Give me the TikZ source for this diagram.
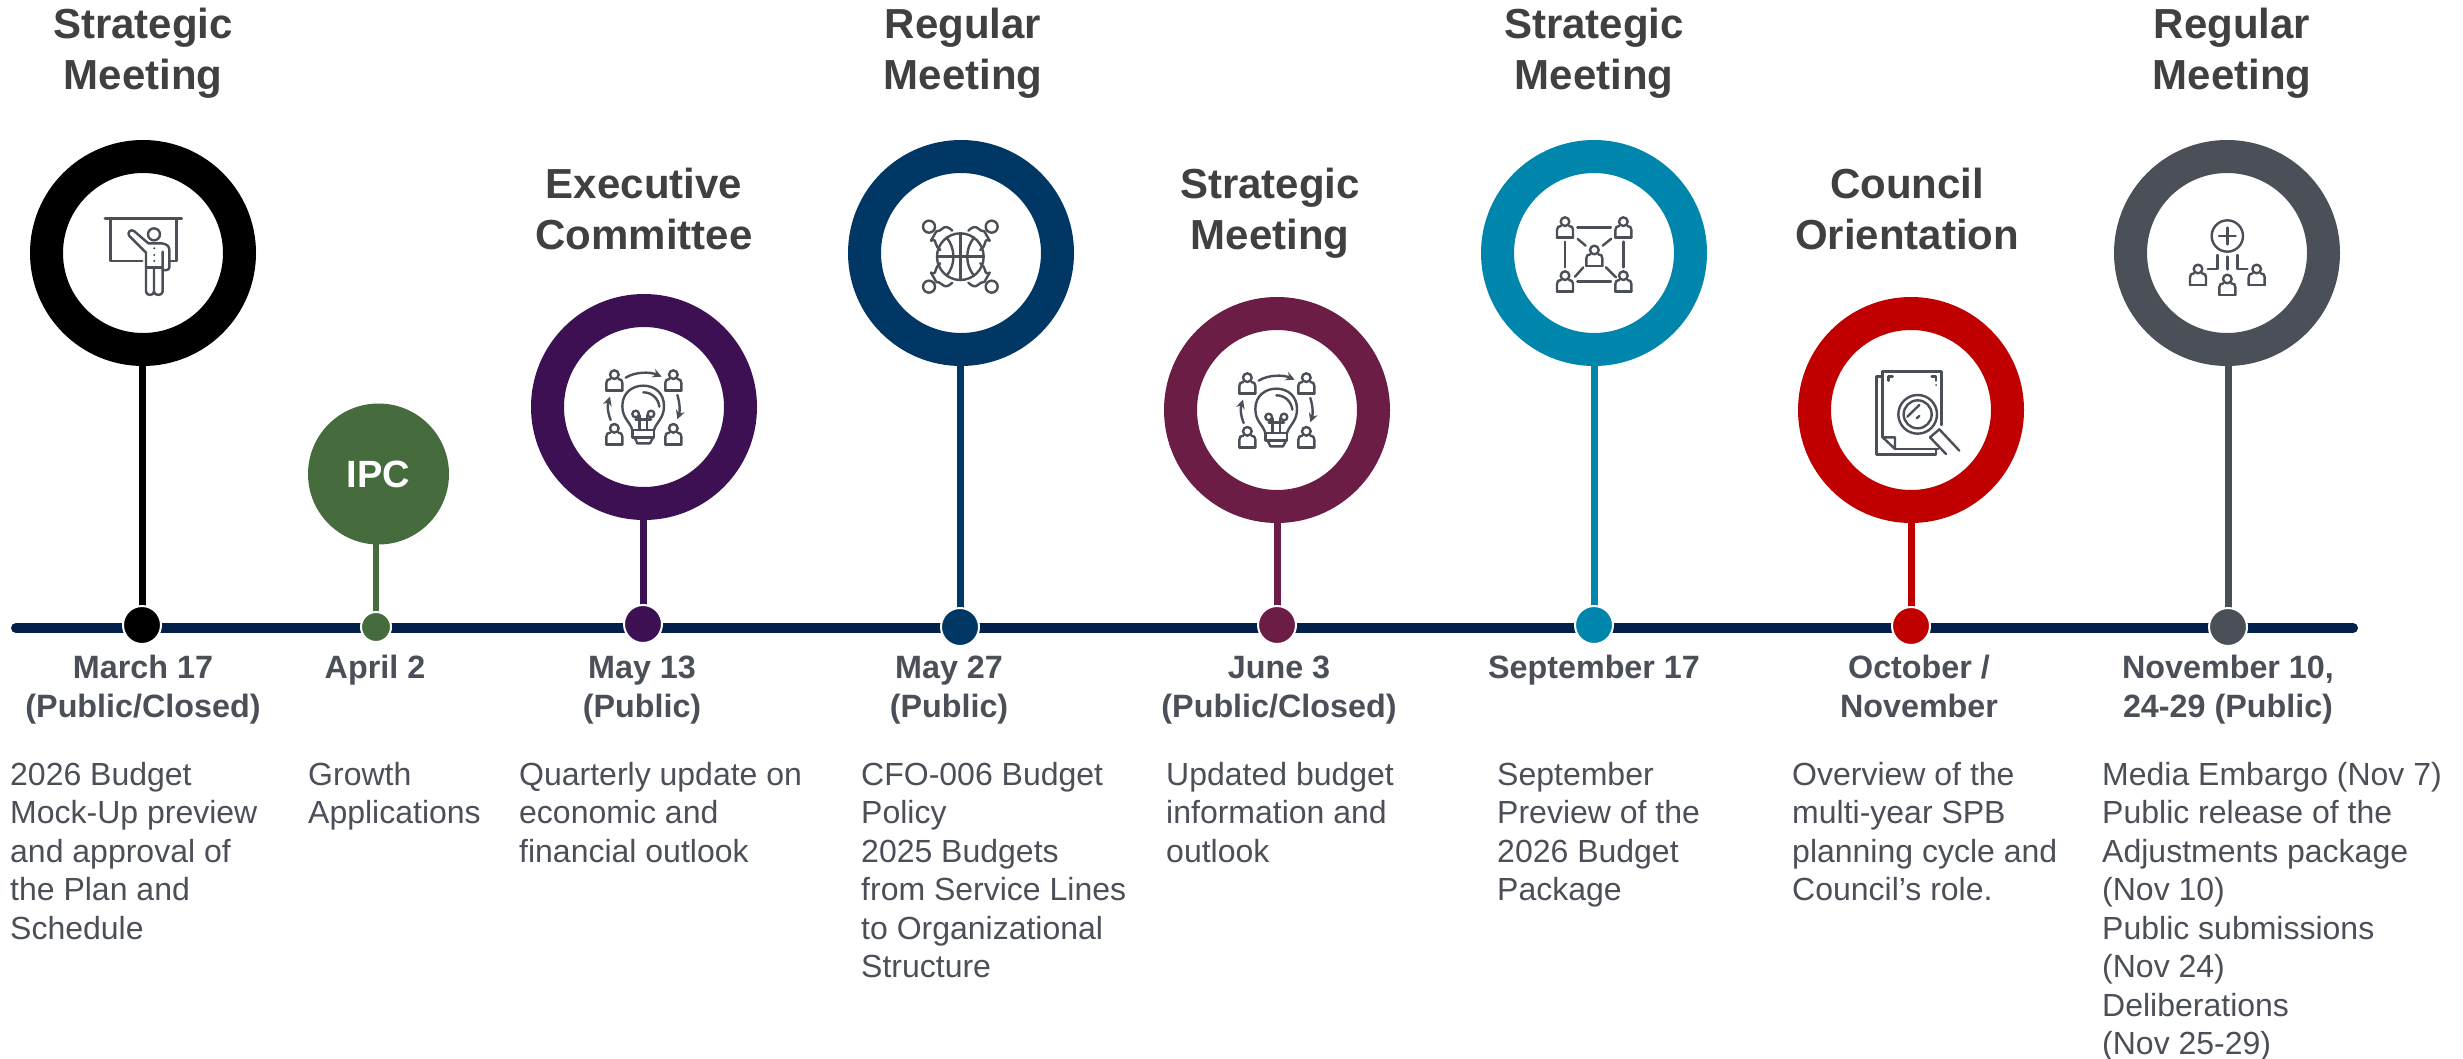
\documentclass[tikz,border=0pt]{standalone}
\usepackage{fontspec}
\setmainfont{Liberation Sans}
\usetikzlibrary{backgrounds,arrows.meta}
\definecolor{txtgray}{HTML}{4B4F58}
\definecolor{titlegray}{HTML}{404040}
\definecolor{axisnavy}{HTML}{03204A}
\definecolor{cblack}{HTML}{000000}
\definecolor{cgreen}{HTML}{466B3C}
\definecolor{cpurple}{HTML}{3C1053}
\definecolor{cnavy}{HTML}{003764}
\definecolor{cmaroon}{HTML}{6C1D45}
\definecolor{cteal}{HTML}{0085AD}
\definecolor{cred}{HTML}{C00000}
\definecolor{cgray}{HTML}{4B4F58}
\newcommand{\firstln}{\rule{0pt}{40pt}}
\tikzset{
  ringnode/.style={circle,draw=#1,fill=white,line width=33pt,minimum size=193pt,inner sep=0pt,outer sep=0pt},
  dotnode/.style={circle,fill=#1,draw=white,line width=2pt,minimum size=38pt,inner sep=0pt,outer sep=0pt},
  stemline/.style={draw=#1,line width=7pt},
  titlenode/.style={anchor=north,inner sep=0pt,align=center,text=titlegray,font=\fontsize{42}{51}\selectfont\bfseries},
  datenode/.style={anchor=north,inner sep=0pt,align=center,text=txtgray,font=\fontsize{32.3}{39}\selectfont\bfseries},
  bodynode/.style={anchor=north west,inner sep=0pt,align=left,text=txtgray,font=\fontsize{32}{38.5}\selectfont},
  iconline/.style={draw=txtgray,line width=2.4pt,line cap=round,line join=round},
}
\newcommand{\personicon}[2]{%
  \draw[iconline] (#1,#2) circle (13);
  \draw[iconline] (#1-24,#2+48) -- (#1-24,#2+25) .. controls (#1-24,#2+16) and (#1-20,#2+14) .. (#1-12,#2+13);
  \draw[iconline] (#1+24,#2+48) -- (#1+24,#2+25) .. controls (#1+24,#2+16) and (#1+20,#2+14) .. (#1+12,#2+13);
  \draw[iconline] (#1-24,#2+48) -- (#1+24,#2+48);
}
\newcommand{\bulbicon}{%
  \personicon{103}{104}\personicon{280}{104}\personicon{103}{265}\personicon{280}{265}
  \draw[iconline,-{Stealth[length=9,width=9]}] (137,113) .. controls (165,95) and (210,95) .. (245,110);
  \draw[iconline,-{Stealth[length=9,width=9]}] (292,165) .. controls (300,190) and (300,215) .. (292,238);
  \draw[iconline,-{Stealth[length=9,width=9]}] (92,240) .. controls (82,215) and (82,195) .. (90,170);
  \draw[iconline] (157,270) .. controls (150,245) and (127,235) .. (127,198) .. controls (127,160) and (155,137) .. (190,137) .. controls (225,137) and (252,160) .. (252,198) .. controls (252,235) and (230,245) .. (222,270);
  \draw[iconline] (157,270) -- (157,292) -- (222,292) -- (222,270) -- cycle;
  \draw[iconline] (190,157) .. controls (215,157) and (235,175) .. (238,200);
  \draw[iconline] (167,222) circle (10);
  \draw[iconline] (213,222) circle (10);
  \draw[iconline] (178,226) -- (178,270);
  \draw[iconline] (201,226) -- (201,270);
  \draw[iconline] (167,238) -- (213,238);
  \draw[iconline] (165,295) -- (172,310) -- (210,310) -- (218,295);
}
\begin{document}
\begin{tikzpicture}[x=1pt,y=-1pt]
\useasboundingbox (0,0) rectangle (2463,1059);
% rings
\node[ringnode=cblack]  (r1) at (143,253) {};
\node[circle,fill=cgreen,minimum size=141pt,inner sep=0pt,outer sep=0pt,text=white,font=\fontsize{38}{42}\selectfont\bfseries] (r2) at (378.5,474) {IPC};
\node[ringnode=cpurple] (r3) at (644,407) {};
\node[ringnode=cnavy]   (r4) at (961,253) {};
\node[ringnode=cmaroon] (r5) at (1277,410) {};
\node[ringnode=cteal]   (r6) at (1594,253) {};
\node[ringnode=cred]    (r7) at (1911,410) {};
\node[ringnode=cgray]   (r8) at (2227,253) {};
% dots
\coordinate (axisL) at (16,628);
\coordinate (axisR) at (2353,628);
\node[dotnode=cblack]  (d1) at (142,625) {};
\node[dotnode=cgreen,minimum size=30pt] (d2) at (376,627) {};
\node[dotnode=cpurple] (d3) at (643,624) {};
\node[dotnode=cnavy]   (d4) at (960,627) {};
\node[dotnode=cmaroon] (d5) at (1277,625) {};
\node[dotnode=cteal]   (d6) at (1594,625) {};
\node[dotnode=cred]    (d7) at (1911,626) {};
\node[dotnode=cgray]   (d8) at (2228,627) {};
\begin{pgfonlayer}{background}
\draw[axisnavy,line width=10pt,line cap=round] (axisL) -- (axisR);
\draw[stemline=cblack] (d1 |- r1) -- (d1);
\draw[stemline=cgreen,line width=6pt] (d2 |- r2) -- (d2);
\draw[stemline=cpurple] (d3 |- r3) -- (d3);
\draw[stemline=cnavy] (d4 |- r4) -- (d4);
\draw[stemline=cmaroon] (d5 |- r5) -- (d5);
\draw[stemline=cteal] (d6 |- r6) -- (d6);
\draw[stemline=cred] (d7 |- r7) -- (d7);
\draw[stemline=cgray] (d8 |- r8) -- (d8);
\end{pgfonlayer}
% titles
\node[titlenode] (t1) at (143,-1.5) {\firstln Strategic\\Meeting};
\node[titlenode] (t3) at (644,158) {\firstln Executive\\Committee};
\node[titlenode] (t4) at (963,-1.5) {\firstln Regular\\Meeting};
\node[titlenode] (t5) at (1270,158) {\firstln Strategic\\Meeting};
\node[titlenode] (t6) at (1594,-1.5) {\firstln Strategic\\Meeting};
\node[titlenode] (t7) at (1907,158) {\firstln Council\\Orientation};
\node[titlenode] (t8) at (2232,-1.5) {\firstln Regular\\Meeting};
% dates
\node[datenode] (a1) at (143,638) {\firstln March 17\\(Public/Closed)};
\node[datenode] (a2) at (375,638) {\firstln April 2};
\node[datenode] (a3) at (642,638) {\firstln May 13\\(Public)};
\node[datenode] (a4) at (949,638) {\firstln May 27\\(Public)};
\node[datenode] (a5) at (1279,638) {\firstln June 3\\(Public/Closed)};
\node[datenode] (a6) at (1594,638) {\firstln September 17};
\node[datenode] (a7) at (1919,638) {\firstln October /\\November};
\node[datenode] (a8) at (2228,638) {\firstln November 10,\\24-29 (Public)};
% bodies
\node[bodynode] (b1) at (10,745) {\firstln 2026 Budget\\Mock-Up preview\\and approval of\\the Plan and\\Schedule};
\node[bodynode] (b2) at (308,745) {\firstln Growth\\Applications};
\node[bodynode] (b3) at (519,745) {\firstln Quarterly update on\\economic and\\financial outlook};
\node[bodynode] (b4) at (861,745) {\firstln CFO-006 Budget\\Policy\\2025 Budgets\\from Service Lines\\to Organizational\\Structure};
\node[bodynode] (b5) at (1166,745) {\firstln Updated budget\\information and\\outlook};
\node[bodynode] (b6) at (1497,745) {\firstln September\\Preview of the\\2026 Budget\\Package};
\node[bodynode] (b7) at (1792,745) {\firstln Overview of the\\multi-year SPB\\planning cycle and\\Council’s role.};
\node[bodynode] (b8) at (2102,745) {\firstln Media Embargo (Nov 7)\\Public release of the\\Adjustments package\\(Nov 10)\\Public submissions\\(Nov 24)\\Deliberations\\(Nov 25-29)};
% icon: presenter
\begin{scope}[shift={(80,180)},scale=1/3]
\draw[iconline,line width=3pt] (75,116) -- (305,116);
\draw[iconline] (92,116) -- (92,243) -- (187,243);
\draw[iconline] (290,116) -- (290,243) -- (268,243);
\draw[iconline] (222,163) circle (18);
\draw[iconline] (198,335) -- (198,218) -- (148,168) .. controls (140,158) and (152,146) .. (162,153) -- (205,190) -- (245,190) .. controls (260,192) and (268,198) .. (268,210) -- (268,262) .. controls (268,270) and (258,272) .. (248,270);
\draw[iconline] (248,215) -- (248,335) .. controls (248,348) and (222,348) .. (222,335) -- (222,268);
\draw[iconline] (222,335) .. controls (222,348) and (198,348) .. (198,335);
\draw[iconline] (198,262) -- (248,262);
\fill[txtgray] (223,205) circle (3.5) (223,225) circle (3.5) (223,243) circle (3.5);
\end{scope}
% icon: bulb, purple and maroon
\begin{scope}[shift={(580,340)},scale=1/3]\bulbicon\end{scope}
\begin{scope}[shift={(1213,343)},scale=1/3]\bulbicon\end{scope}
% icon: basketball
\begin{scope}[shift={(895,190)},scale=1/3]
\draw[iconline] (196,200) circle (70);
\draw[iconline] (196,130) -- (196,270);
\draw[iconline] (126,200) -- (266,200);
\draw[iconline] (155,143) .. controls (182,175) and (182,225) .. (155,257);
\draw[iconline] (237,143) .. controls (210,175) and (210,225) .. (237,257);
\foreach \sx/\sy in {1/1,-1/1,1/-1,-1/-1}{
\begin{scope}[shift={(196,200)},xscale=\sx,yscale=\sy]
\draw[iconline] (-94,-90) circle (18);
\draw[iconline] (-24,-78) .. controls (-36,-90) and (-46,-92) .. (-54,-84) .. controls (-60,-78) and (-66,-76) .. (-72,-76);
\draw[iconline] (-88,-48) .. controls (-78,-52) and (-76,-50) .. (-74,-40) .. controls (-72,-32) and (-68,-26) .. (-60,-20);
\draw[iconline] (-72,-76) -- (-88,-48);
\end{scope}}
\end{scope}
% icon: network
\begin{scope}[shift={(1530,190)},scale=1/3]
\personicon{105}{95}\personicon{280}{95}\personicon{105}{257}\personicon{280}{257}\personicon{193}{180}
\draw[iconline] (142,113) -- (243,113);
\draw[iconline] (142,275) -- (243,275);
\draw[iconline] (105,155) -- (105,232);
\draw[iconline] (281,155) -- (281,232);
\draw[iconline] (143,147) -- (167,167);
\draw[iconline] (244,146) -- (218,167);
\draw[iconline] (135,260) -- (160,232);
\draw[iconline] (228,232) -- (258,262);
\end{scope}
% icon: document and magnifier
\begin{scope}[shift={(1850,350)},scale=1/3]
\draw[iconline] (98,80) -- (80,80) -- (80,313) -- (258,313) -- (258,297);
\draw[iconline] (98,262) -- (98,65) -- (275,65) -- (275,225);
\draw[iconline] (98,262) -- (135,262) -- (135,297) -- cycle;
\draw[iconline] (135,297) -- (265,297);
\draw[iconline] (115,92) -- (115,80) -- (128,80);
\draw[iconline] (245,80) -- (258,80) -- (258,92);
\fill[txtgray] (258,105) circle (3);
\draw[iconline] (203,193) circle (58);
\draw[iconline] (203,193) circle (42);
\draw[iconline] (172,200) -- (208,165);
\draw[iconline] (200,205) -- (208,198);
\draw[iconline] (240,262) -- (288,312);
\draw[iconline] (268,238) -- (328,302);
\draw[iconline] (240,262) -- (268,238);
\end{scope}
% icon: plus
\begin{scope}[shift={(2165,190)},scale=1/3]
\draw[iconline] (187,138) circle (47);
\draw[iconline] (162,138) -- (212,138);
\draw[iconline] (187,113) -- (187,163);
\draw[iconline] (157,195) -- (157,237) -- (128,237);
\draw[iconline] (187,200) -- (187,238);
\draw[iconline] (218,195) -- (218,237) -- (247,237);
\personicon{99}{237}\personicon{187}{267}\personicon{275}{237}
\end{scope}
\end{tikzpicture}
\end{document}
